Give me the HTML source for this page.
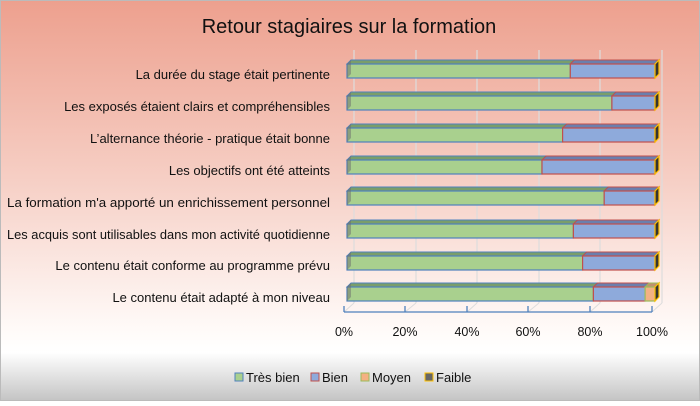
<!DOCTYPE html>
<html><head><meta charset="utf-8"><style>
html,body{margin:0;padding:0;}
body{width:700px;height:401px;overflow:hidden;font-family:"Liberation Sans",sans-serif;}
</style></head><body>
<svg width="700" height="401" xmlns="http://www.w3.org/2000/svg" font-family="Liberation Sans, sans-serif">
<defs>
<linearGradient id="bg" x1="0" y1="0" x2="0" y2="1">
<stop offset="0" stop-color="#eda08e"/>
<stop offset="0.45" stop-color="#f6cfc5"/>
<stop offset="0.82" stop-color="#fffaf8"/>
<stop offset="0.88" stop-color="#ffffff"/>
<stop offset="1" stop-color="#c4c4c4"/>
</linearGradient>
</defs>
<rect x="0.5" y="0.5" width="699" height="400" fill="url(#bg)" stroke="#bbbbbb"/>
<text x="349" y="33" font-size="20" text-anchor="middle" fill="#111">Retour stagiaires sur la formation</text>
<g stroke="#dddddd" stroke-width="1.2">
<line x1="354" y1="50" x2="354" y2="303"/><line x1="416" y1="50" x2="416" y2="303"/>
<line x1="477" y1="50" x2="477" y2="303"/><line x1="539" y1="50" x2="539" y2="303"/>
<line x1="600" y1="50" x2="600" y2="303"/><line x1="662" y1="50" x2="662" y2="303"/>
</g>
<g stroke="#dddddd" stroke-width="1">
<line x1="344" y1="312" x2="354" y2="303"/><line x1="405" y1="312" x2="416" y2="303"/>
<line x1="467" y1="312" x2="477" y2="303"/><line x1="528" y1="312" x2="539" y2="303"/>
<line x1="590" y1="312" x2="600" y2="303"/><line x1="652" y1="312" x2="662" y2="303"/>
</g>
<g stroke="#4f81bd" stroke-width="1.3">
<line x1="344" y1="312" x2="652" y2="312"/>
<line x1="344" y1="312" x2="344" y2="306"/><line x1="405" y1="312" x2="405" y2="306"/>
<line x1="467" y1="312" x2="467" y2="306"/><line x1="528" y1="312" x2="528" y2="306"/>
<line x1="590" y1="312" x2="590" y2="306"/><line x1="652" y1="312" x2="652" y2="306"/>
</g>
<g font-size="12.5" fill="#111" text-anchor="middle">
<text x="344" y="336">0%</text><text x="405" y="336">20%</text><text x="467" y="336">40%</text>
<text x="528" y="336">60%</text><text x="590" y="336">80%</text><text x="652" y="336">100%</text>
</g>

<g transform="translate(0,64)">
<polygon points="347,0 351,-4 574.3,-4 570.3,0" fill="#7a9e6a" stroke="#4f81bd"/>
<rect x="347" y="0" width="223.3" height="14" fill="#a9d08e" stroke="#4f81bd" stroke-width="1.2"/>
<polygon points="570.3,0 574.3,-4 659,-4 655,0" fill="#6a7fae" stroke="#c0504d"/>
<rect x="570.3" y="0" width="84.7" height="14" fill="#8eaadb" stroke="#c0504d" stroke-width="1.2"/>
<polygon points="655,0 659,-4 659,10 655,14" fill="#333" stroke="#ffc000" stroke-width="1.2"/>
<polygon points="347,0 351,-4 351,10 347,14" fill="#6b6b6b" opacity="0.5"/>
</g>
<g transform="translate(0,96)">
<polygon points="347,0 351,-4 615.9,-4 611.9,0" fill="#7a9e6a" stroke="#4f81bd"/>
<rect x="347" y="0" width="264.9" height="14" fill="#a9d08e" stroke="#4f81bd" stroke-width="1.2"/>
<polygon points="611.9,0 615.9,-4 659,-4 655,0" fill="#6a7fae" stroke="#c0504d"/>
<rect x="611.9" y="0" width="43.1" height="14" fill="#8eaadb" stroke="#c0504d" stroke-width="1.2"/>
<polygon points="655,0 659,-4 659,10 655,14" fill="#333" stroke="#ffc000" stroke-width="1.2"/>
<polygon points="347,0 351,-4 351,10 347,14" fill="#6b6b6b" opacity="0.5"/>
</g>
<g transform="translate(0,128)">
<polygon points="347,0 351,-4 566.6,-4 562.6,0" fill="#7a9e6a" stroke="#4f81bd"/>
<rect x="347" y="0" width="215.6" height="14" fill="#a9d08e" stroke="#4f81bd" stroke-width="1.2"/>
<polygon points="562.6,0 566.6,-4 659,-4 655,0" fill="#6a7fae" stroke="#c0504d"/>
<rect x="562.6" y="0" width="92.4" height="14" fill="#8eaadb" stroke="#c0504d" stroke-width="1.2"/>
<polygon points="655,0 659,-4 659,10 655,14" fill="#333" stroke="#ffc000" stroke-width="1.2"/>
<polygon points="347,0 351,-4 351,10 347,14" fill="#6b6b6b" opacity="0.5"/>
</g>
<g transform="translate(0,160)">
<polygon points="347,0 351,-4 546,-4 542,0" fill="#7a9e6a" stroke="#4f81bd"/>
<rect x="347" y="0" width="195" height="14" fill="#a9d08e" stroke="#4f81bd" stroke-width="1.2"/>
<polygon points="542,0 546,-4 659,-4 655,0" fill="#6a7fae" stroke="#c0504d"/>
<rect x="542" y="0" width="113" height="14" fill="#8eaadb" stroke="#c0504d" stroke-width="1.2"/>
<polygon points="655,0 659,-4 659,10 655,14" fill="#333" stroke="#ffc000" stroke-width="1.2"/>
<polygon points="347,0 351,-4 351,10 347,14" fill="#6b6b6b" opacity="0.5"/>
</g>
<g transform="translate(0,191)">
<polygon points="347,0 351,-4 608.2,-4 604.2,0" fill="#7a9e6a" stroke="#4f81bd"/>
<rect x="347" y="0" width="257.2" height="14" fill="#a9d08e" stroke="#4f81bd" stroke-width="1.2"/>
<polygon points="604.2,0 608.2,-4 659,-4 655,0" fill="#6a7fae" stroke="#c0504d"/>
<rect x="604.2" y="0" width="50.8" height="14" fill="#8eaadb" stroke="#c0504d" stroke-width="1.2"/>
<polygon points="655,0 659,-4 659,10 655,14" fill="#333" stroke="#ffc000" stroke-width="1.2"/>
<polygon points="347,0 351,-4 351,10 347,14" fill="#6b6b6b" opacity="0.5"/>
</g>
<g transform="translate(0,224)">
<polygon points="347,0 351,-4 577.4,-4 573.4,0" fill="#7a9e6a" stroke="#4f81bd"/>
<rect x="347" y="0" width="226.4" height="14" fill="#a9d08e" stroke="#4f81bd" stroke-width="1.2"/>
<polygon points="573.4,0 577.4,-4 659,-4 655,0" fill="#6a7fae" stroke="#c0504d"/>
<rect x="573.4" y="0" width="81.6" height="14" fill="#8eaadb" stroke="#c0504d" stroke-width="1.2"/>
<polygon points="655,0 659,-4 659,10 655,14" fill="#333" stroke="#ffc000" stroke-width="1.2"/>
<polygon points="347,0 351,-4 351,10 347,14" fill="#6b6b6b" opacity="0.5"/>
</g>
<g transform="translate(0,256)">
<polygon points="347,0 351,-4 586.6,-4 582.6,0" fill="#7a9e6a" stroke="#4f81bd"/>
<rect x="347" y="0" width="235.6" height="14" fill="#a9d08e" stroke="#4f81bd" stroke-width="1.2"/>
<polygon points="582.6,0 586.6,-4 659,-4 655,0" fill="#6a7fae" stroke="#c0504d"/>
<rect x="582.6" y="0" width="72.4" height="14" fill="#8eaadb" stroke="#c0504d" stroke-width="1.2"/>
<polygon points="655,0 659,-4 659,10 655,14" fill="#333" stroke="#ffc000" stroke-width="1.2"/>
<polygon points="347,0 351,-4 351,10 347,14" fill="#6b6b6b" opacity="0.5"/>
</g>
<g transform="translate(0,287)">
<polygon points="347,0 351,-4 597.4,-4 593.4,0" fill="#7a9e6a" stroke="#4f81bd"/>
<rect x="347" y="0" width="246.4" height="14" fill="#a9d08e" stroke="#4f81bd" stroke-width="1.2"/>
<polygon points="593.4,0 597.4,-4 649.1,-4 645.1,0" fill="#6a7fae" stroke="#c0504d"/>
<rect x="593.4" y="0" width="51.7" height="14" fill="#8eaadb" stroke="#c0504d" stroke-width="1.2"/>
<polygon points="645.1,0 649.1,-4 659,-4 655,0" fill="#c09070" stroke="#9bbb59"/>
<rect x="645.1" y="0" width="9.9" height="14" fill="#f4b183" stroke="#9bbb59" stroke-width="1.2"/>
<polygon points="655,0 659,-4 659,10 655,14" fill="#333" stroke="#ffc000" stroke-width="1.2"/>
<polygon points="347,0 351,-4 351,10 347,14" fill="#6b6b6b" opacity="0.5"/>
</g>

<g font-size="13" fill="#111" text-anchor="end">
<text x="330" y="79">La durée du stage était pertinente</text>
<text x="330" y="111">Les exposés étaient clairs et compréhensibles</text>
<text x="330" y="143">L’alternance théorie - pratique était bonne</text>
<text x="330" y="175">Les objectifs ont été atteints</text>
<text x="330" y="207" textLength="323" lengthAdjust="spacingAndGlyphs">La formation m'a apporté un enrichissement personnel</text>
<text x="330" y="239" textLength="323" lengthAdjust="spacingAndGlyphs">Les acquis sont utilisables dans mon activité quotidienne</text>
<text x="330" y="270">Le contenu était conforme au programme prévu</text>
<text x="330" y="302">Le contenu était adapté à mon niveau</text>
</g>
<g font-size="13" fill="#111">
<rect x="235" y="373" width="8" height="8" fill="#a9d08e" stroke="#4f81bd"/><text x="246" y="382">Très bien</text>
<rect x="311" y="373" width="8" height="8" fill="#8eaadb" stroke="#c0504d"/><text x="322" y="382">Bien</text>
<rect x="361" y="373" width="8" height="8" fill="#f4b183" stroke="#9bbb59"/><text x="372" y="382">Moyen</text>
<rect x="425" y="373" width="8" height="8" fill="#666" stroke="#ffc000"/><text x="436" y="382">Faible</text>
</g>
</svg>
</body></html>
